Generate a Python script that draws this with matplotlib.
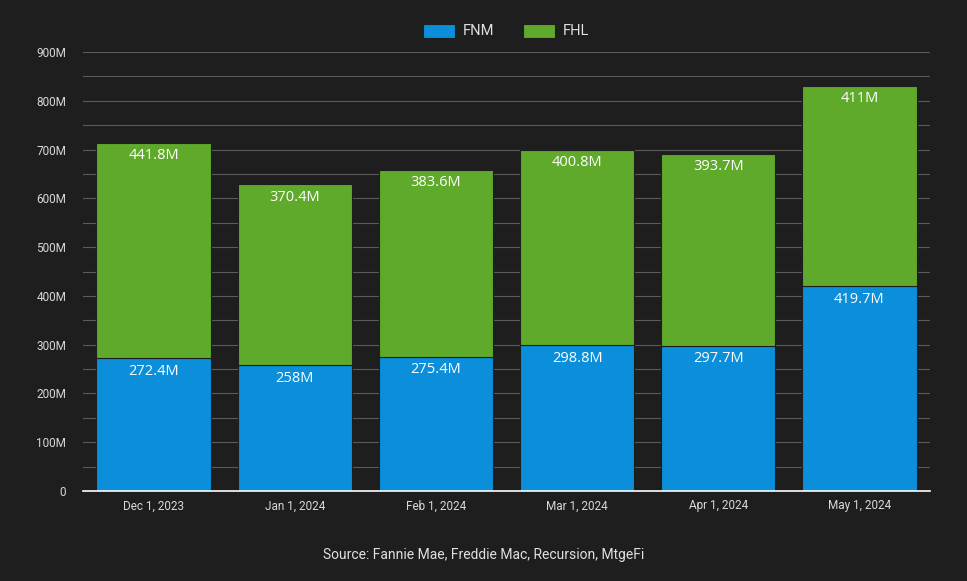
import matplotlib.pyplot as plt
import numpy as np

# Data
dates = ['Dec 1, 2023', 'Jan 1, 2024', 'Feb 1, 2024', 'Mar 1, 2024', 'Apr 1, 2024', 'May 1, 2024']
fnm = [272.4, 258.0, 275.4, 298.8, 297.7, 419.7]
fhl = [441.8, 370.4, 383.6, 400.8, 393.7, 411.0]
fnm_labels = ['272.4M', '258M', '275.4M', '298.8M', '297.7M', '419.7M']
fhl_labels = ['441.8M', '370.4M', '383.6M', '400.8M', '393.7M', '411M']

bg = '#1e1e1e'
blue = '#0b8fdb'
green = '#5fa92b'
plt.rcParams['font.family'] = ['Roboto', 'DejaVu Sans']

fig = plt.figure(figsize=(9.67, 5.81), dpi=100, facecolor=bg)
ax = fig.add_axes([83 / 967, 1 - 491 / 581, 847 / 967, 439 / 581])
ax.set_facecolor(bg)

x = np.arange(len(dates))
w = 0.81
b1 = ax.bar(x, fnm, width=w, color=blue, edgecolor=bg, linewidth=0.8, label='FNM', zorder=3)
b2 = ax.bar(x, fhl, width=w, bottom=fnm, color=green, edgecolor=bg, linewidth=0.8, label='FHL', zorder=3)

for i in range(len(dates)):
    ax.annotate(fnm_labels[i], (x[i], fnm[i]), xytext=(0, -4), textcoords='offset points',
                ha='center', va='top', color='white', fontsize=10.5,
                family=['Open Sans', 'DejaVu Sans'], zorder=4)
    ax.annotate(fhl_labels[i], (x[i], fnm[i] + fhl[i]), xytext=(0, -4), textcoords='offset points',
                ha='center', va='top', color='white', fontsize=10.5,
                family=['Open Sans', 'DejaVu Sans'], zorder=4)

ax.set_xlim(-0.5, len(dates) - 0.5)
ax.set_ylim(0, 900)
ax.set_yticks(np.arange(0, 901, 100))
ax.set_yticklabels(['0'] + [f'{v}M' for v in range(100, 901, 100)])
ax.set_yticks(np.arange(50, 900, 100), minor=True)
ax.grid(axis='y', which='both', color='#5a5a5a', linewidth=0.8, zorder=0)
ax.set_xticks(x)
ax.set_xticklabels(dates)
ax.tick_params(axis='both', which='both', length=0, colors='#d8d8d8', labelsize=8.5)
ax.tick_params(axis='x', pad=6)
ax.tick_params(axis='y', pad=12)
for s in ['top', 'right', 'left']:
    ax.spines[s].set_visible(False)
ax.spines['bottom'].set_color('white')
ax.spines['bottom'].set_linewidth(1.2)
ax.spines['bottom'].set_zorder(5)

leg = fig.legend(handles=[b1, b2], loc='center', bbox_to_anchor=(506 / 967, 1 - 31 / 581), ncol=2,
                 frameon=False, fontsize=10.5, handlelength=2.2, handleheight=1.1,
                 columnspacing=2.0, handletextpad=0.5)
for t in leg.get_texts():
    t.set_color('#e0e0e0')

fig.text(0.5, 1 - 555 / 581, 'Source: Fannie Mae, Freddie Mac, Recursion, MtgeFi',
         ha='center', va='center', color='#e0e0e0', fontsize=10)

plt.savefig('out.png', dpi=100, facecolor=bg)
